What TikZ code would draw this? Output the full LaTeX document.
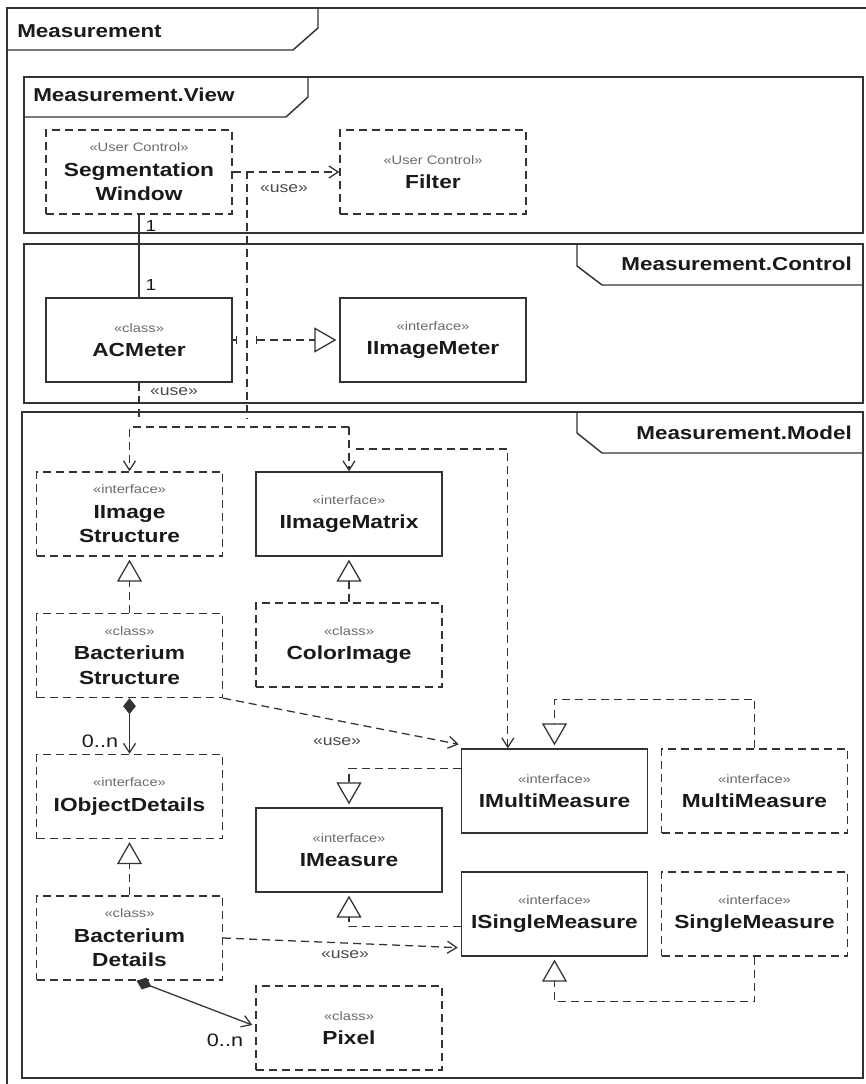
\documentclass[tikz,border=0pt]{standalone}
\usepackage{fontspec}
\setmainfont{Liberation Sans}[FakeStretch=1.2]
\usetikzlibrary{arrows.meta,calc}

\definecolor{ink}{HTML}{1A1A1A}
\definecolor{lc}{HTML}{333333}
\definecolor{stgray}{HTML}{6A6A6A}
\definecolor{usegray}{HTML}{4A4A4A}

\newcommand{\namefont}{\fontsize{14.2pt}{18.4pt}\selectfont\bfseries}
\newcommand{\stereo}[1]{{\fontsize{9.2pt}{18.4pt}\selectfont\mdseries\color{stgray}«#1»}}

\tikzset{
  frame/.style={draw=lc, line width=1.1pt},
  title/.style={font=\fontsize{14pt}{16pt}\selectfont\bfseries, text=ink, inner sep=0pt},
  cls/.style={draw=lc, line width=1pt, minimum width=139.5pt, minimum height=63pt,
              inner sep=0pt, align=center, font=\namefont, text=ink},
  dbox/.style={cls, dash pattern=on 6pt off 3.75pt},
  dep/.style={draw=lc, line width=0.95pt, dash pattern=on 6pt off 3.75pt},
  use/.style={dep, -{Straight Barb[length=7pt,width=9pt]}},
  real/.style={dep, -{Triangle[open,length=16.5pt,width=18.75pt]}, shorten >=2.25pt},
  comp/.style={draw=lc, line width=0.95pt,
               {Diamond[length=12pt,width=9.5pt]}-{Straight Barb[length=7pt,width=9pt]}},
  assoc/.style={draw=lc, line width=0.95pt},
  tick/.style={draw=lc, line width=0.95pt},
  lbl/.style={font=\fontsize{11pt}{13pt}\selectfont, text=usegray, inner sep=0pt},
  mult/.style={font=\fontsize{13.5pt}{16pt}\selectfont, text=ink, inner sep=0pt},
  one/.style={font=\fontsize{12pt}{14pt}\selectfont, text=ink, inner sep=0pt},
}

\begin{document}
\begin{tikzpicture}[x=0.75pt, y=-0.75pt]
\useasboundingbox (0,0) rectangle (866,1084);

% ---------- package frames ----------
\draw[frame] (866,8) -- (7,8) -- (7,1084);
\draw[frame] (7,50) -- (293,50) -- (318,28) -- (318,8);
\node[title, anchor=base west] (tOuter) at (17,37.3) {Measurement};

\draw[frame] (24,77) rectangle (863,233);
\draw[frame] (24,117) -- (286,117) -- (308,97) -- (308,77);
\node[title, anchor=base west] (tView) at (33,101.5) {Measurement.View};

\draw[frame] (24,244) rectangle (863,403);
\draw[frame] (863,285) -- (602,285) -- (577,266) -- (577,244);
\node[title, anchor=base east] (tCtrl) at (852,270.5) {Measurement.Control};

\draw[frame] (22,412) rectangle (863,1078);
\draw[frame] (863,453) -- (602,453) -- (577,433) -- (577,412);
\node[title, anchor=base east] (tModel) at (852,439) {Measurement.Model};

% ---------- View ----------
\node[dbox] (sw)  at (139,172) {\stereo{User Control}\\Segmentation\\Window};
\node[dbox] (flt) at (433,172) {\stereo{User Control}\\Filter};

% ---------- Control ----------
\node[cls] (acm) at (139,340) {\stereo{class}\\ACMeter};
\node[cls] (iim) at (433,340) {\stereo{interface}\\IImageMeter};

% ---------- Model ----------
\node[dbox] (iis) at (129.5,514)   {\stereo{interface}\\IImage\\Structure};
\node[cls]  (imx) at (349,514)     {\stereo{interface}\\IImageMatrix};
\node[dbox] (bs)  at (129.5,655.5) {\stereo{class}\\Bacterium\\Structure};
\node[dbox] (ci)  at (349,645)     {\stereo{class}\\ColorImage};
\node[dbox] (iod) at (129.5,796.5) {\stereo{interface}\\IObjectDetails};
\node[dbox] (bd)  at (129.5,938)   {\stereo{class}\\Bacterium\\Details};
\node[cls]  (ime) at (349,850)     {\stereo{interface}\\IMeasure};
\node[dbox] (px)  at (349,1028)    {\stereo{class}\\Pixel};
\node[cls]  (imm) at (554.5,791)   {\stereo{interface}\\IMultiMeasure};
\node[dbox] (mm)  at (754.5,791)   {\stereo{interface}\\MultiMeasure};
\node[cls]  (ism) at (554.5,914)   {\stereo{interface}\\ISingleMeasure};
\node[dbox] (sm)  at (754.5,914)   {\stereo{interface}\\SingleMeasure};

% ---------- connectors ----------
% association between the window and the meter
\draw[assoc] (sw.south) -- (acm.north);
\node[one] (m1a) at (151,226) {1};
\node[one] (m1b) at (151,285) {1};

% window uses filter
\draw[use] (sw.east) -- (flt.west);
\node[lbl] (u1) at (284,189) {«use»};

% dependency bundle running down into the model package
\coordinate (swDrop) at (247,418);
\draw[dep] (sw.east) -| (swDrop);
\coordinate (acDrop) at (139,421);
\draw[dep] (acm.south) -- (acDrop);
\node[lbl] (u2) at (174,392) {«use»};
\coordinate (jB) at (349,427);
\draw[use] (jB) -| (iis.north);
\draw[use] (jB) -- (imx.north);
\coordinate (jC) at (356,449);
\draw[use] (jC) -| ($(imm.north west)+(47,0)$);

% meter realizes IImageMeter (with a line hop)
\draw[dep] (acm.east) -- ++(4,0) coordinate (hopL);
\draw[tick] ($(hopL)+(0,-4)$) -- ($(hopL)+(0,4)$);
\coordinate (hopR) at ($(acm.east)+(24,0)$);
\draw[tick] ($(hopR)+(0,-4)$) -- ($(hopR)+(0,4)$);
\draw[real] (hopR) -- (iim.west);

% realizations in the model
\draw[real] (bs.north) -- (iis.south);
\draw[real] (ci.north) -- (imx.south);
\draw[real] (bd.north) -- (iod.south);
\draw[real] ($(imm.north west)+(0,20)$) -| (ime.north);
\draw[real] ($(ism.south west)+(0,-30)$) -| (ime.south);
\draw[real] (mm.north) -- ++(0,-49) -| (imm.north);
\draw[real] (sm.south) -- ++(0,45) -| (ism.south);

% uses in the model
\draw[use] (bs.south east) -- ($(imm.north west)+(-2,-4)$);
\node[lbl] (u3) at (337,742) {«use»};
\draw[use] (bd.east) -- ($(ism.south west)+(-3,-9)$);
\node[lbl] (u4) at (345,955) {«use»};

% compositions
\draw[comp] (bs.south) -- (iod.north);
\node[mult] (m2) at (100,741) {0..n};
\draw[comp] ($(bd.south)+(7,0)$) -- ($(px.west)+(-3,-3)$);
\node[mult] (m3) at (225,1040) {0..n};
\end{tikzpicture}
\end{document}
